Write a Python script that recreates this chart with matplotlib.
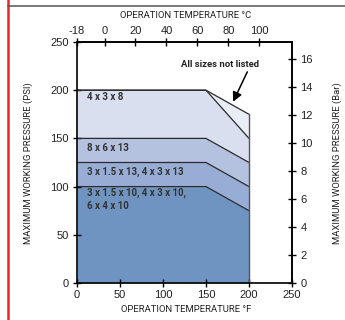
import matplotlib
matplotlib.use("Agg")
import matplotlib.pyplot as plt
from matplotlib.lines import Line2D
from matplotlib.ticker import FixedLocator, FixedFormatter

# ---- data ----
temp_f = [0, 150, 200]
all_sizes = [200, 200, 175]
s_4x3x8 = [200, 200, 150]
s_8x6x13 = [150, 150, 125]
s_x13 = [125, 125, 100]
s_x10 = [100, 100, 75]

band_labels = ["4 x 3 x 8", "8 x 6 x 13", "3 x 1.5 x 13, 4 x 3 x 13",
               "3 x 1.5 x 10, 4 x 3 x 10,\n6 x 4 x 10"]
x_ticks_f = [0, 50, 100, 150, 200, 250]
y_ticks_psi = [0, 50, 100, 150, 200, 250]
c_ticks = [-160 / 9, 0, 20, 40, 60, 80, 100]
c_tick_labels = ["-18", "0", "20", "40", "60", "80", "100"]
bar_ticks = [0, 2, 4, 6, 8, 10, 12, 14, 16]

fam = ["Liberation Sans", "DejaVu Sans"]
cond = ["Roboto", "DejaVu Sans"]
plt.rcParams['font.family'] = fam

fig = plt.figure(figsize=(3.45, 3.2), dpi=100)
W, H = 345, 320
ax = fig.add_axes([77 / W, 1 - 283 / H, (292 - 77) / W, (283 - 42) / H])

c_light = "#e9edf6"
c_4x3x8 = "#d9dfee"
c_8x6 = "#b4c2e0"
c_13 = "#98add5"
c_10 = "#7094c1"
edge = "#2a2a2a"

ax.fill_between(temp_f, s_4x3x8, all_sizes, color=c_light, lw=0)
ax.fill_between(temp_f, s_8x6x13, s_4x3x8, color=c_4x3x8, lw=0)
ax.fill_between(temp_f, s_x13, s_8x6x13, color=c_8x6, lw=0)
ax.fill_between(temp_f, s_x10, s_x13, color=c_13, lw=0)
ax.fill_between(temp_f, 0, s_x10, color=c_10, lw=0)

for series in (all_sizes, s_4x3x8, s_8x6x13, s_x13, s_x10):
    ax.plot(temp_f, series, color=edge, lw=0.9, solid_capstyle='butt')
ax.plot([temp_f[-1], temp_f[-1]], [0, all_sizes[-1]], color="#555555", lw=1.0)

ax.set_xlim(0, 250)
ax.set_ylim(0, 250)
ax.set_xticks(x_ticks_f)
ax.set_yticks(y_ticks_psi)
ax.tick_params(direction='inout', length=6, width=1.0, labelsize=8,
               colors='black', labelcolor='#222222')
ax.tick_params(axis='y', pad=3)
ax.tick_params(axis='x', pad=2)
for s in ax.spines.values():
    s.set_linewidth(1.2)
    s.set_color('black')

# top axis (C)
top = ax.secondary_xaxis('top', functions=(lambda f: (f - 32) * 5 / 9,
                                           lambda c: c * 9 / 5 + 32))
top.xaxis.set_major_locator(FixedLocator(c_ticks))
top.xaxis.set_major_formatter(FixedFormatter(c_tick_labels))
top.tick_params(direction='inout', length=6, width=1.0, labelsize=8,
                labelcolor='#222222', pad=1)
top.spines['top'].set_linewidth(1.2)

# right axis (Bar)
right = ax.secondary_yaxis('right', functions=(lambda p: p / 14.5038,
                                               lambda b: b * 14.5038))
right.yaxis.set_major_locator(FixedLocator(bar_ticks))
right.tick_params(direction='inout', length=6, width=1.0, labelsize=8,
                  labelcolor='#222222', pad=3)
right.spines['right'].set_linewidth(1.2)

# band labels
levels = [s_4x3x8[0], s_8x6x13[0], s_x13[0], s_x10[0]]
offsets = [-7, -10, -9, -13]
for lab, lev, off in zip(band_labels, levels, offsets):
    ax.annotate(lab, xy=(0, lev), xytext=(10, off), textcoords='offset pixels',
                ha='left', va='center', fontsize=7, fontweight='bold',
                family=cond, color='#333333', linespacing=1.35)

ax.text(166, 227, "All sizes not listed", ha='center', va='center',
        fontsize=6.8, fontweight='bold', family=cond, color='#222222')
ax.annotate("", xy=(181.5, 188), xytext=(198, 219),
            arrowprops=dict(arrowstyle='-|>', color='black', lw=1.1,
                            mutation_scale=14, shrinkA=0, shrinkB=0))

# axis titles
fig.text(186 / W, 1 - 15 / H, "OPERATION TEMPERATURE °C", ha='center', va='center',
         fontsize=6.8, family=cond, color='#222222')
fig.text(186 / W, 1 - 310 / H, "OPERATION TEMPERATURE °F", ha='center', va='center',
         fontsize=6.8, family=cond, color='#222222')
fig.text(28 / W, 1 - 163 / H, "MAXIMUM WORKING PRESSURE (PSI)", ha='center', va='center',
         rotation=90, fontsize=6.8, family=cond, color='#222222')
fig.text(337 / W, 1 - 163 / H, "MAXIMUM WORKING PRESSURE (Bar)", ha='center', va='center',
         rotation=90, fontsize=6.8, family=cond, color='#222222')

# frame decorations
fig.add_artist(Line2D([7.5 / W, 7.5 / W], [0, 1], color="#e8262d", lw=1.8,
                      transform=fig.transFigure))
fig.add_artist(Line2D([7.5 / W, 1], [1 - 5.5 / H, 1 - 5.5 / H], color="#555555", lw=1.1,
                      transform=fig.transFigure))

fig.savefig("out.png", dpi=100)
